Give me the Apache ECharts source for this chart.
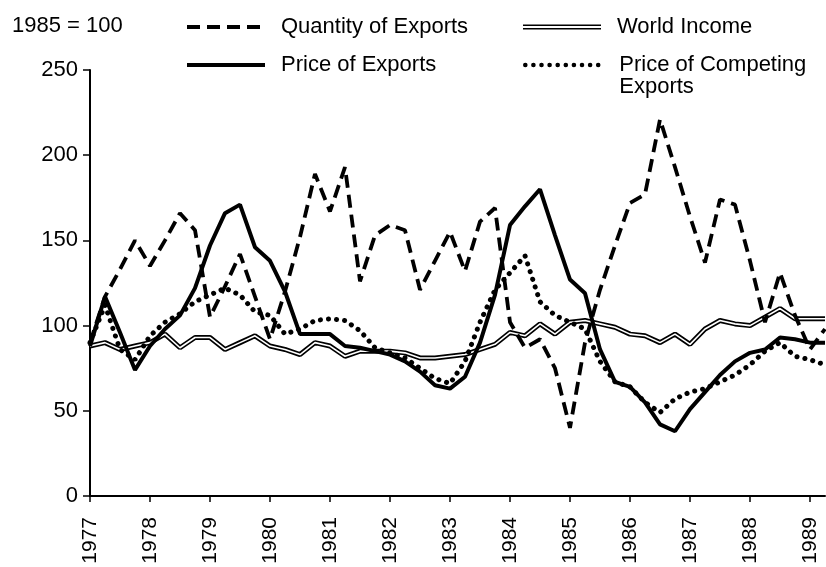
<!DOCTYPE html>
<html>
<head>
<meta charset="utf-8">
<script src="https://cdn.jsdelivr.net/npm/echarts@6/dist/echarts.min.js"></script>
<style>
html,body{margin:0;padding:0;background:#fff;}
#chart{width:826px;height:567px;}
</style>
</head>
<body>
<div id="chart"></div>
<script>
var quarters = [
 '1977 Q1','1977 Q2','1977 Q3','1977 Q4',
 '1978 Q1','1978 Q2','1978 Q3','1978 Q4',
 '1979 Q1','1979 Q2','1979 Q3','1979 Q4',
 '1980 Q1','1980 Q2','1980 Q3','1980 Q4',
 '1981 Q1','1981 Q2','1981 Q3','1981 Q4',
 '1982 Q1','1982 Q2','1982 Q3','1982 Q4',
 '1983 Q1','1983 Q2','1983 Q3','1983 Q4',
 '1984 Q1','1984 Q2','1984 Q3','1984 Q4',
 '1985 Q1','1985 Q2','1985 Q3','1985 Q4',
 '1986 Q1','1986 Q2','1986 Q3','1986 Q4',
 '1987 Q1','1987 Q2','1987 Q3','1987 Q4',
 '1988 Q1','1988 Q2','1988 Q3','1988 Q4',
 '1989 Q1','1989 Q2'
];
var yearLabels = ['1977','1978','1979','1980','1981','1982','1983','1984','1985','1986','1987','1988','1989'];
var yTicks = [0, 50, 100, 150, 200, 250];

var quantityOfExports = [90,117,133,150, 135,150,166,156, 105,123,142,117, 92,120,152,189,
  167,193,126,153, 159,156,121,138, 155,132,161,169, 102,87,92,75, 40,90,121,147,
  172,177,221,193, 164,137,174,171, 138,102,131,106, 86,98];
var priceOfExports = [88,117,96,74, 88,98,106,122, 147,166,171,146, 138,120,95,95,
  95,88,87,85, 83,79,73,65, 63,70,90,118, 159,170,180,153, 127,119,86,67,
  64,55,42,38, 51,61,71,79, 84,86,93,92, 90,90];
var priceOfCompeting = [90,112,86,80, 94,102,107,114, 118,122,118,108, 106,95,98,103,
  104,103,97,87, 84,81,75,69, 66,79,102,121, 131,141,114,106, 102,98,79,67,
  64,55,49,57, 61,63,67,71, 77,85,90,82, 80,77];
var worldIncome = [88,90,86,88, 90,95,87,93, 93,86,90,94, 88,86,83,90,
  88,82,85,85, 85,84,81,81, 82,83,86,89, 96,94,101,95, 102,103,101,99,
  95,94,90,95, 89,98,103,101, 100,105,110,104, 104,104];

var FONT = "'Liberation Sans', Arial, Helvetica, sans-serif";
var FS = 22;
var chart = echarts.init(document.getElementById('chart'), null, {renderer: 'canvas'});

function legendFor(name, left, top, lineWidth, icon) {
  var l = {
    data: [name], left: left, top: top, padding: 0,
    itemWidth: 78, itemHeight: 14, itemGap: 0,
    selectedMode: false,
    itemStyle: {opacity: 0},
    lineStyle: {width: lineWidth},
    textStyle: {fontFamily: FONT, fontSize: FS, lineHeight: 22, color: '#000', padding: [0,0,0,11]}
  };
  if (icon) { l.icon = icon; l.itemHeight = 6; l.itemStyle = {color: '#000'}; }
  return l;
}

var legends = [
  legendFor('Quantity of Exports', 185, 16, 4),
  legendFor('Price of Exports', 185, 54, 4),
  legendFor('World Income', 523, 16, 1, 'path://M0,0H80V1.6H0ZM0,3.6H80V5.2H0Z'),
  legendFor('Price of Competing Exports', 523, 32, 4.5)
];
legends[3].formatter = function () { return '\nPrice of Competing\nExports'; };

var option = {
  animation: false,
  backgroundColor: '#fff',
  textStyle: {fontFamily: FONT},
  title: {
    text: '1985 = 100', left: 12, top: 15, padding: 0,
    textStyle: {fontFamily: FONT, fontSize: FS, lineHeight: 22, fontWeight: 'normal', color: '#000'}
  },
  legend: legends,
  grid: {left: 90, top: 70, right: 1, bottom: 71, containLabel: false},
  xAxis: {
    type: 'category',
    data: quarters,
    boundaryGap: false,
    axisLine: {lineStyle: {color: '#000', width: 2}},
    axisTick: {
      length: 6, lineStyle: {color: '#000', width: 1.5},
      interval: function (i) { return i % 4 === 0; }
    },
    axisLabel: {
      interval: function (i) { return i % 4 === 0; },
      rotate: 90, margin: 21,
      fontFamily: FONT, fontSize: 21, color: '#000',
      formatter: function (v, i) { return yearLabels[i / 4]; }
    },
    splitLine: {show: false}
  },
  yAxis: {
    type: 'value', min: yTicks[0], max: yTicks[yTicks.length - 1], interval: 50,
    axisLine: {show: true, lineStyle: {color: '#000', width: 2}},
    axisTick: {show: true, length: 7, lineStyle: {color: '#000', width: 1.5}},
    axisLabel: {fontFamily: FONT, fontSize: FS, color: '#000', margin: 12},
    splitLine: {show: false}
  },
  series: [
    {
      name: 'World Income', type: 'line', data: worldIncome, symbol: 'none', z: 2,
      lineStyle: {color: '#000', width: 5}, itemStyle: {color: '#000'}
    },
    {
      name: 'World Income inner', type: 'line', data: worldIncome, symbol: 'none', z: 3,
      lineStyle: {color: '#fff', width: 1.6}, itemStyle: {color: '#fff'}, silent: true
    },
    {
      name: 'Price of Competing Exports', type: 'line', data: priceOfCompeting, symbol: 'none', z: 4,
      lineStyle: {color: '#000', width: 5, type: [0.1, 8], cap: 'round'}, itemStyle: {color: '#000'}
    },
    {
      name: 'Price of Exports', type: 'line', data: priceOfExports, symbol: 'none', z: 5,
      lineStyle: {color: '#000', width: 4}, itemStyle: {color: '#000'}
    },
    {
      name: 'Quantity of Exports', type: 'line', data: quantityOfExports, symbol: 'none', z: 6,
      lineStyle: {color: '#000', width: 3.8, type: [13, 7]}, itemStyle: {color: '#000'}
    }
  ]
};
chart.setOption(option);
</script>
</body>
</html>
